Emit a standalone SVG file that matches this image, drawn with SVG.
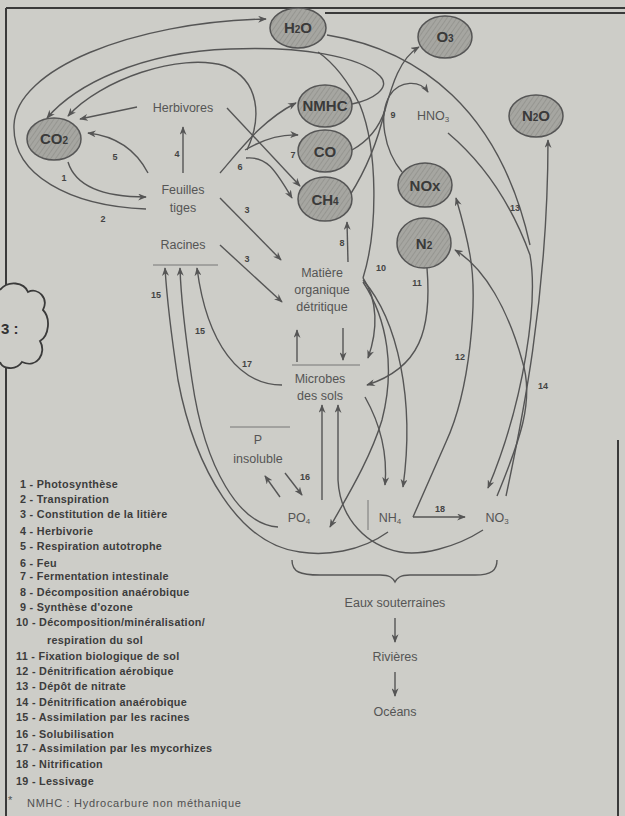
<svg xmlns="http://www.w3.org/2000/svg" width="625" height="816" viewBox="0 0 625 816">
<style>
.bg{fill:#cdcdc8}
.frame{stroke:#3a3a3a;stroke-width:2;fill:none}
.c{fill:none;stroke:#555;stroke-width:1.4}
.a{marker-end:url(#ar)}
.node ellipse{fill:url(#hatch);stroke:#555;stroke-width:1.5}
.nl{font-family:"Liberation Sans",Arial,sans-serif;font-size:15px;font-weight:bold;fill:#3a3a3a;text-anchor:middle}
.lb{font-family:"Liberation Sans",Arial,sans-serif;font-size:12.5px;fill:#555;text-anchor:middle}
.num{font-family:"Liberation Sans",Arial,sans-serif;font-size:9px;font-weight:bold;fill:#444;text-anchor:middle}
.leg{font-family:"Liberation Sans",Arial,sans-serif;font-size:10.8px;font-weight:bold;fill:#3c3c3c;letter-spacing:0.3px}
.foot{font-family:"Liberation Sans",Arial,sans-serif;font-size:11px;fill:#505050;letter-spacing:0.7px}
.thin{stroke:#777;stroke-width:1;fill:none}
</style>
<defs>
<pattern id="hatch" width="4" height="4" patternUnits="userSpaceOnUse" patternTransform="rotate(35)">
<rect width="4" height="4" fill="#a6a6a1"/>
<line x1="0" y1="0" x2="0" y2="4" stroke="#8e8e89" stroke-width="1.3"/>
</pattern>
<marker id="ar" viewBox="0 0 10 8" refX="9" refY="4" markerWidth="9" markerHeight="7" markerUnits="userSpaceOnUse" orient="auto">
<path d="M0,0 L10,4 L0,8 L3,4 z" fill="#555"/>
</marker>
</defs>
<rect class="bg" x="0" y="0" width="625" height="816"/>

<g id="frame">
<path class="frame" d="M6,8 L625,8"/>
<path class="frame" d="M325,13 L625,13" stroke-width="1.5"/>
<path class="frame" d="M6,8 L6,287"/>
<path class="frame" d="M6,367 L6,816"/>
<path class="frame" d="M618,440 L618,816"/>
<path d="M0,290 C8,280 24,282 28,292 C38,287 49,298 43,310 C51,318 49,336 40,341 C47,353 37,369 22,362 C15,372 2,368 0,362" fill="#cdcdc8" stroke="#3a3a3a" stroke-width="1.8"/>
<text x="1" y="334" font-family="Liberation Sans,Arial,sans-serif" font-size="15" font-weight="bold" fill="#333">3 :</text>
</g>

<g id="connectors">
<path class="c a" d="M68,162 C76,188 105,197 146,197"/>
<path class="c a" d="M146,209 C70,206 12,175 14,125 C16,70 130,22 266,19"/>
<path class="c a" d="M148,173 C136,150 115,136 88,133"/>
<path class="c a" d="M183,173 L183,127"/>
<path class="c a" d="M137,107 L80,119"/>
<path class="c a" d="M247,150 C262,118 260,80 225,66 C180,52 100,80 68,116"/>
<path class="c a" d="M352,104 C372,100 392,88 380,76 C360,56 300,46 230,49 C140,52 75,85 47,118"/>
<path class="c" d="M363,278 C378,230 378,150 360,105 C350,85 338,66 318,52"/>
<path class="c a" d="M220,173 C240,150 262,120 296,103"/>
<path class="c a" d="M245,150 C262,140 278,134 298,135"/>
<path class="c a" d="M246,158 C268,156 276,172 292,198"/>
<path class="c a" d="M227,108 L300,186"/>
<path class="c a" d="M220,198 L281,260"/>
<path class="c a" d="M220,245 L282,302"/>
<path class="c a" d="M348,262 L347,222"/>
<path class="c a" d="M352,150 C370,140 380,125 385,110 C392,85 400,58 419,47"/>
<path class="c" d="M350,195 C366,170 378,140 385,110"/>
<path class="c a" d="M402,172 C384,150 378,115 390,95 C400,80 420,80 428,92"/>
<path class="c" d="M327,35 C420,50 500,110 530,245"/>
<path class="c a" d="M448,133 C480,160 510,200 530,255 C538,300 525,400 488,488"/>
<path class="c a" d="M506,496 C520,430 548,300 548,140"/>
<path class="c a" d="M497,496 C520,440 535,400 522,360 C508,310 485,268 455,250"/>
<path class="c a" d="M413,517 L446,442 C470,390 478,300 470,255 C466,232 461,215 456,198"/>
<path class="c a" d="M413,517 L465,517"/>
<path class="c a" d="M427,268 C432,330 420,368 367,385"/>
<path class="c a" d="M363,278 C378,300 378,330 368,358"/>
<path class="c a" d="M363,282 C388,320 395,370 382,420 C370,460 345,500 330,527"/>
<path class="c a" d="M363,280 C398,320 415,400 403,487"/>
<path class="c a" d="M365,397 C378,420 388,450 385,485"/>
<path class="c a" d="M297,362 L297,330"/>
<path class="c a" d="M343,328 L343,360"/>
<path class="c a" d="M282,385 C240,385 207,345 197,268"/>
<path class="c a" d="M322,500 L322,405"/>
<path class="c a" d="M483,530 C455,548 420,556 400,552 C368,546 340,520 338,480 L338,405"/>
<path class="c a" d="M388,532 C360,552 325,556 300,552 C240,545 195,470 178,380 C172,340 167,300 165,268"/>
<path class="c a" d="M278,527 C240,525 205,470 192,380 C186,340 181,300 180,268"/>
<path class="c a" d="M280,497 L265,476"/>
<path class="c a" d="M285,473 L302,495"/>
<path class="c a" d="M395,618 L395,642"/>
<path class="c a" d="M395,672 L395,696"/>
<path class="c" d="M292,560 C292,572 300,575 320,575 L380,575 C390,575 393,578 395,582 C397,578 400,575 410,575 L475,575 C492,575 497,570 497,560"/>
<path class="thin" d="M153,265 L218,265"/>
<path class="thin" d="M230,427 L290,427"/>
<path class="thin" d="M292,365 L360,365"/>
<path class="thin" d="M368,500 L368,530"/>
</g>

<g id="labels-num">
<text class="num" x="64" y="181">1</text>
<text class="num" x="103" y="222">2</text>
<text class="num" x="115" y="160">5</text>
<text class="num" x="177" y="157">4</text>
<text class="num" x="240" y="170">6</text>
<text class="num" x="293" y="158">7</text>
<text class="num" x="247" y="213">3</text>
<text class="num" x="247" y="262">3</text>
<text class="num" x="342" y="246">8</text>
<text class="num" x="393" y="118">9</text>
<text class="num" x="381" y="271">10</text>
<text class="num" x="417" y="286">11</text>
<text class="num" x="460" y="360">12</text>
<text class="num" x="515" y="211">13</text>
<text class="num" x="543" y="389">14</text>
<text class="num" x="156" y="298">15</text>
<text class="num" x="200" y="334">15</text>
<text class="num" x="247" y="367">17</text>
<text class="num" x="305" y="480">16</text>
<text class="num" x="440" y="512">18</text>
</g>

<g id="n-h2o" class="node"><ellipse cx="298" cy="28" rx="28" ry="20"/><text class="nl" x="298" y="33">H<tspan font-size="10">2</tspan>O</text></g>
<g id="n-o3" class="node"><ellipse cx="445" cy="37" rx="27" ry="21"/><text class="nl" x="445" y="42">O<tspan font-size="10">3</tspan></text></g>
<g id="n-co2" class="node"><ellipse cx="54" cy="139" rx="27" ry="21"/><text class="nl" x="54" y="144">CO<tspan font-size="10">2</tspan></text></g>
<g id="n-nmhc" class="node"><ellipse cx="325" cy="106" rx="27" ry="21"/><text class="nl" x="325" y="111">NMHC</text></g>
<g id="n-co" class="node"><ellipse cx="325" cy="151" rx="27" ry="21"/><text class="nl" x="325" y="157">CO</text></g>
<g id="n-ch4" class="node"><ellipse cx="325" cy="199" rx="27" ry="22"/><text class="nl" x="325" y="205">CH<tspan font-size="10">4</tspan></text></g>
<g id="n-n2o" class="node"><ellipse cx="536" cy="116" rx="27" ry="21"/><text class="nl" x="536" y="121">N<tspan font-size="10">2</tspan>O</text></g>
<g id="n-nox" class="node"><ellipse cx="425" cy="185" rx="27" ry="22"/><text class="nl" x="425" y="191">NOx</text></g>
<g id="n-n2" class="node"><ellipse cx="424" cy="243" rx="27" ry="25"/><text class="nl" x="424" y="249">N<tspan font-size="10">2</tspan></text></g>

<g id="n-hno3"><text class="lb" x="433" y="120" font-size="11">HNO<tspan font-size="8" dy="2">3</tspan></text></g>
<g id="n-herbivores"><text class="lb" x="183" y="112">Herbivores</text></g>
<g id="n-feuilles"><text class="lb" x="183" y="194">Feuilles</text><text class="lb" x="183" y="212">tiges</text></g>
<g id="n-racines"><text class="lb" x="183" y="249">Racines</text></g>
<g id="n-matiere"><text class="lb" x="322" y="277">Matière</text><text class="lb" x="322" y="294">organique</text><text class="lb" x="322" y="311">détritique</text></g>
<g id="n-microbes"><text class="lb" x="320" y="383">Microbes</text><text class="lb" x="320" y="400">des sols</text></g>
<g id="n-pins"><text class="lb" x="258" y="444">P</text><text class="lb" x="258" y="463">insoluble</text></g>
<g id="n-po4"><text class="lb" x="299" y="522" font-size="11">PO<tspan font-size="8" dy="2">4</tspan></text></g>
<g id="n-nh4"><text class="lb" x="390" y="522" font-size="11">NH<tspan font-size="8" dy="2">4</tspan></text></g>
<g id="n-no3"><text class="lb" x="497" y="522" font-size="11">NO<tspan font-size="8" dy="2">3</tspan></text></g>
<g id="n-eaux"><text class="lb" x="395" y="607">Eaux souterraines</text></g>
<g id="n-rivieres"><text class="lb" x="395" y="661">Rivières</text></g>
<g id="n-oceans"><text class="lb" x="395" y="716">Océans</text></g>

<g id="legend">
<text class="leg" x="20" y="488">1 - Photosynthèse</text>
<text class="leg" x="20" y="503">2 - Transpiration</text>
<text class="leg" x="20" y="518">3 - Constitution de la litière</text>
<text class="leg" x="20" y="535">4 - Herbivorie</text>
<text class="leg" x="20" y="550">5 - Respiration autotrophe</text>
<text class="leg" x="20" y="567">6 - Feu</text>
<text class="leg" x="20" y="580">7 - Fermentation intestinale</text>
<text class="leg" x="20" y="596">8 - Décomposition anaérobique</text>
<text class="leg" x="20" y="611">9 - Synthèse d'ozone</text>
<text class="leg" x="16" y="626">10 - Décomposition/minéralisation/</text>
<text class="leg" x="47" y="644">respiration du sol</text>
<text class="leg" x="16" y="660">11 - Fixation biologique de sol</text>
<text class="leg" x="16" y="675">12 - Dénitrification aérobique</text>
<text class="leg" x="16" y="690">13 - Dépôt de nitrate</text>
<text class="leg" x="16" y="706">14 - Dénitrification anaérobique</text>
<text class="leg" x="16" y="721">15 - Assimilation par les racines</text>
<text class="leg" x="16" y="738">16 - Solubilisation</text>
<text class="leg" x="16" y="752">17 - Assimilation par les mycorhizes</text>
<text class="leg" x="16" y="768">18 - Nitrification</text>
<text class="leg" x="16" y="785">19 - Lessivage</text>
<text class="foot" x="8" y="804">*</text>
<text class="foot" x="27" y="807">NMHC : Hydrocarbure non méthanique</text>
</g>
</svg>
